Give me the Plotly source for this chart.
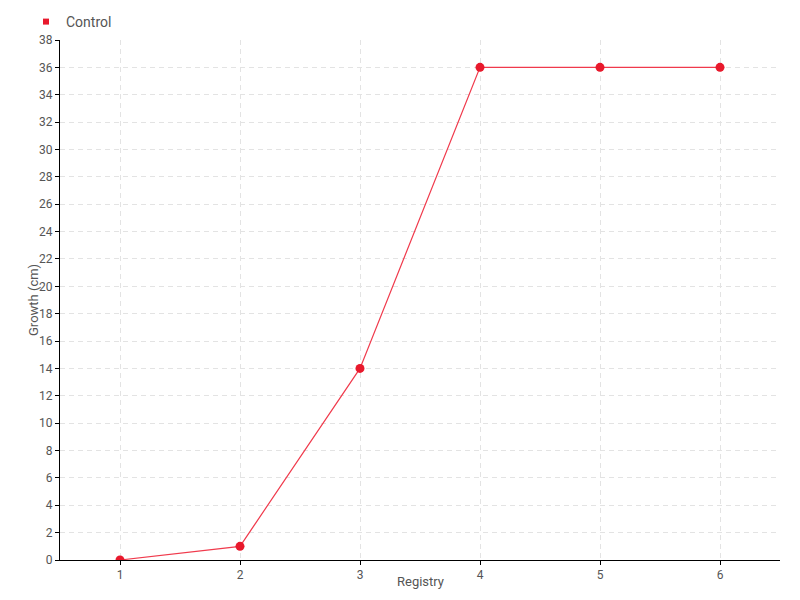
import plotly.graph_objects as go

registry = [1, 2, 3, 4, 5, 6]
growth_control = [0, 1, 14, 36, 36, 36]
y_ticks = list(range(0, 39, 2))

FONT = "Roboto, sans-serif"
RED = "#e8192c"
GREY = "#555555"

# the page body adds an 8px offset, so the figure is 8px smaller
W, H = 792, 592

fig = go.Figure()
fig.add_trace(go.Scatter(
    x=registry, y=growth_control, name="Control",
    mode="lines+markers", showlegend=False,
    line=dict(color="#f03a4c", width=1.2),
    marker=dict(color=RED, size=9, symbol="circle"),
))
# legend entry only: small square like the reference
fig.add_trace(go.Scatter(
    x=[None], y=[None], name="Control", mode="markers",
    marker=dict(color=RED, size=6, symbol="square"),
))

fig.update_layout(
    width=W, height=H,
    margin=dict(l=52, r=20, t=32, b=40, autoexpand=False),
    plot_bgcolor="white", paper_bgcolor="white",
    font=dict(family=FONT, size=12, color=GREY),
    showlegend=True,
    legend=dict(x=18 / W, xref="container", y=1 - 14 / H, yref="container",
                xanchor="left", yanchor="middle",
                font=dict(size=14, color=GREY),
                itemwidth=30, bgcolor="rgba(0,0,0,0)"),
    annotations=[
        dict(text="Registry", x=0.5, y=0, xref="paper", yref="paper",
             xanchor="center", yanchor="top", yshift=-12, showarrow=False,
             font=dict(size=13, color=GREY)),
        dict(text="Growth (cm)", x=0, y=0.5, xref="paper", yref="paper",
             xanchor="center", yanchor="middle", xshift=-27, textangle=-90,
             showarrow=False, font=dict(size=13, color=GREY)),
    ],
)

fig.update_xaxes(
    range=[0.5, 6.5], tickvals=registry, ticktext=[str(v) for v in registry],
    showline=True, linecolor="black", linewidth=1,
    ticks="outside", ticklen=4, tickcolor="black",
    showgrid=True, gridcolor="#e3e3e3", griddash="5px,4px",
    zeroline=False, automargin=False,
)
fig.update_yaxes(
    range=[0, 38], tickvals=y_ticks,
    showline=True, linecolor="black", linewidth=1,
    ticks="outside", ticklen=4, tickcolor="black", ticklabelstandoff=0,
    showgrid=True, gridcolor="#e3e3e3", griddash="5px,4px",
    zeroline=False, automargin=False,
)

fig.write_html("out.html")
